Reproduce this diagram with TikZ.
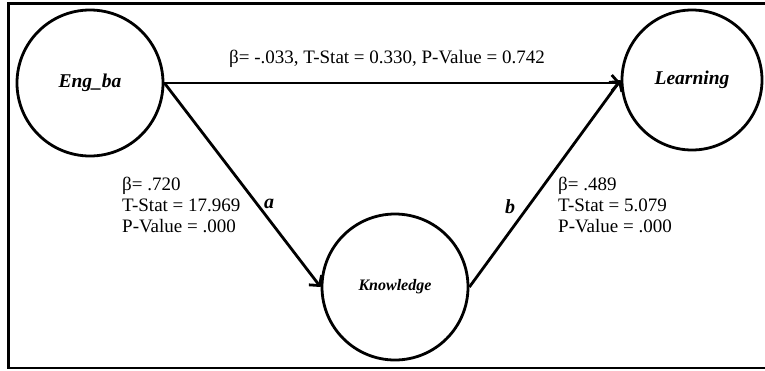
\documentclass[tikz,border=0pt]{standalone}
\usepackage{fontspec}
\setmainfont{Liberation Serif}
\usetikzlibrary{arrows.meta}

\begin{document}
\begin{tikzpicture}[x=1pt, y=-1pt,
    every node/.style={font=\fontsize{19}{21}\selectfont},
    % Construct: circle, thick border, bold italic name
    construct/.style={circle, draw=black, line width=2.8pt, minimum size=146pt,
        inner sep=0pt, font=\fontsize{19.5}{21}\selectfont\bfseries\itshape},
    % Path between constructs
    link/.style={line width=2.8pt, -{Straight Barb[length=7pt, width=16pt]}},
    % Coefficient block next to a path
    stats/.style={align=left, anchor=north west, inner sep=0pt},
    % Path letter
    pathname/.style={font=\fontsize{20}{21}\selectfont\bfseries\itshape, inner sep=0pt},
    % Outer frame
    frame/.style={line width=2.8pt},
]

\useasboundingbox (0,0) rectangle (765,370);
\clip (0,0) rectangle (765,370);

% Frame (right side runs off the picture)
\draw[frame] (8.5,3.5) rectangle (780,368);

% ====================================================
% CONSTRUCTS
% ====================================================
\node[construct] (eng) at (90, 83) {Eng\_ba};
\node[construct] (know) at (395, 287) {\fontsize{16}{18}\selectfont Knowledge};
\node[construct, minimum size=140pt] (learn) at (692, 80) {Learning};

% ====================================================
% PATHS
% ====================================================
\draw[link] (eng.east) -- (learn.west |- eng.east);
\draw[link] (eng.east) -- (know.west);
\draw[link] (know.east) -- (learn.west);

% Direct effect
\node[anchor=base, inner sep=0pt] (direct) at (387, 63)
    {β= -.033, T-Stat = 0.330, P-Value = 0.742};

% Path a
\node[pathname, anchor=base] (a) at (269, 208) {a};
\node[stats] (stats-a) at (122, 177)
    {β= .720\\T-Stat = 17.969\\P-Value = .000};

% Path b
\node[pathname, anchor=base] (b) at (510, 213) {b};
\node[stats] (stats-b) at (558, 177)
    {β= .489\\T-Stat = 5.079\\P-Value = .000};

\end{tikzpicture}
\end{document}
